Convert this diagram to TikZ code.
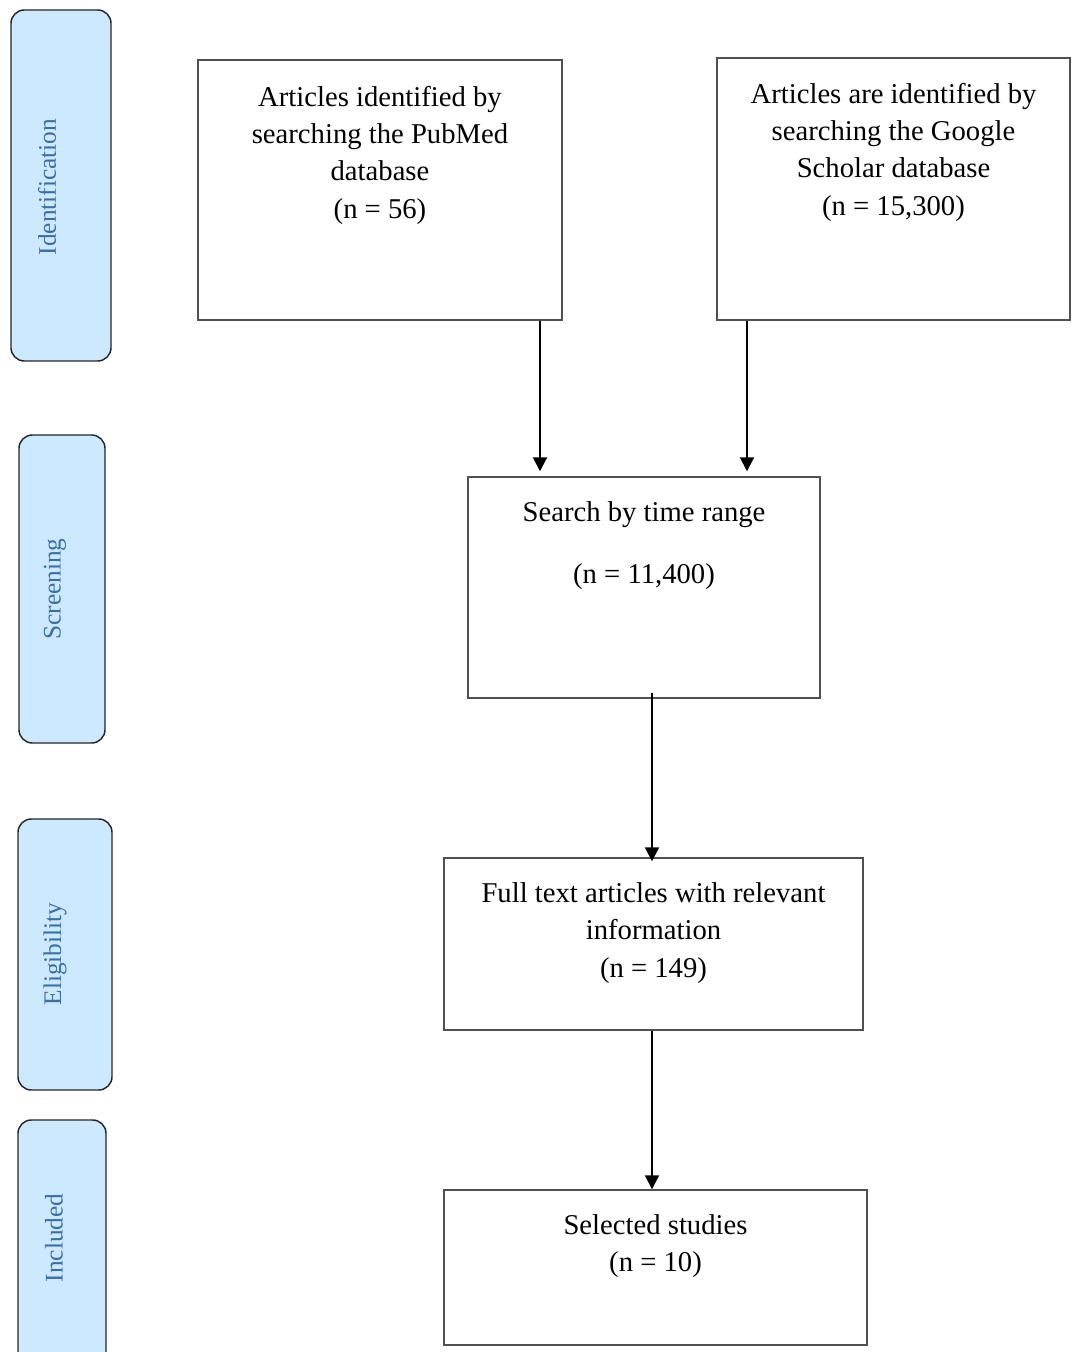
\documentclass[tikz,border=0pt]{standalone}
\usepackage{fontspec}
\setmainfont{Liberation Serif}
\usetikzlibrary{arrows.meta,calc}
\definecolor{sidefill}{RGB}{204,233,255}
\definecolor{sidetext}{RGB}{59,110,165}
\definecolor{boxline}{RGB}{80,80,80}
\tikzset{
  mainbox/.style={draw=boxline,line width=1.1pt,inner sep=0pt},
  sidebox/.style={draw=black!85,fill=sidefill,line width=1.1pt,rounded corners=10pt,inner sep=0pt},
  sidelabel/.style={rotate=90,text=sidetext,font=\fontsize{19}{23}\selectfont,inner sep=0pt},
  boxtext/.style={align=center,font=\fontsize{21.5}{28}\selectfont,inner sep=0pt},
  arr/.style={line width=1.5pt,-{Triangle[width=10.5pt,length=10.5pt]}}
}
\begin{document}
\begin{tikzpicture}[x=0.75pt,y=-0.75pt]
\useasboundingbox (0,0) rectangle (1071,1352);
\begin{scope}
\clip (0,0) rectangle (1071,1352);
% side boxes
\node[sidebox,minimum width=75pt,minimum height=263.25pt] (sid) at (61,185.5) {};
\node[sidebox,minimum width=64.5pt,minimum height=231pt] (sscr) at (62,589) {};
\node[sidebox,minimum width=70.5pt,minimum height=203.25pt] (selig) at (65,954.5) {};
\node[sidebox,minimum width=66pt,minimum height=183.75pt] (sinc) at (62,1242.5) {};
\end{scope}
\node[sidelabel] (lid) at (47,187) {Identification};
\node[sidelabel] (lscr) at (55,589) {Screening};
\node[sidelabel] (lelig) at (55,954) {Eligibility};
\node[sidelabel] (linc) at (54,1238) {Included};
% main boxes
\node[mainbox,minimum width=273pt,minimum height=195pt] (b1) at (380,190) {};
\node[mainbox,minimum width=264.75pt,minimum height=196.5pt] (b2) at (893.5,189) {};
\node[mainbox,minimum width=264pt,minimum height=165.75pt] (search) at (644,587.5) {};
\node[mainbox,minimum width=314.25pt,minimum height=129pt] (full) at (653.5,944) {};
\node[mainbox,minimum width=317.25pt,minimum height=116.25pt] (sel) at (655.5,1267.5) {};
% texts
\node[boxtext] (t1) at (380,155) {Articles identified by\\searching the PubMed\\database\\(n = 56)};
\node[boxtext] (t2) at (893.5,152) {Articles are identified by\\searching the Google\\Scholar database\\(n = 15,300)};
\node[boxtext] (t3) at (644,546) {Search by time range\\[18.5pt](n = 11,400)};
\node[boxtext] (t4) at (653.5,933) {Full text articles with relevant\\information\\(n = 149)};
\node[boxtext] (t5) at (655.5,1246) {Selected studies\\(n = 10)};
% arrows
\draw[arr] ($(b1.south)+(160,0)$) -- ($(search.north)+(-104,-5)$);
\draw[arr] ($(b2.south)+(-146.5,0)$) -- ($(search.north)+(103,-5)$);
\draw[arr] ($(search.south)+(8,-6)$) -- ($(full.north)+(-1.5,4)$);
\draw[arr] ($(full.south)+(-1.5,0)$) -- ($(sel.north)+(-3.5,0)$);
\end{tikzpicture}
\end{document}
